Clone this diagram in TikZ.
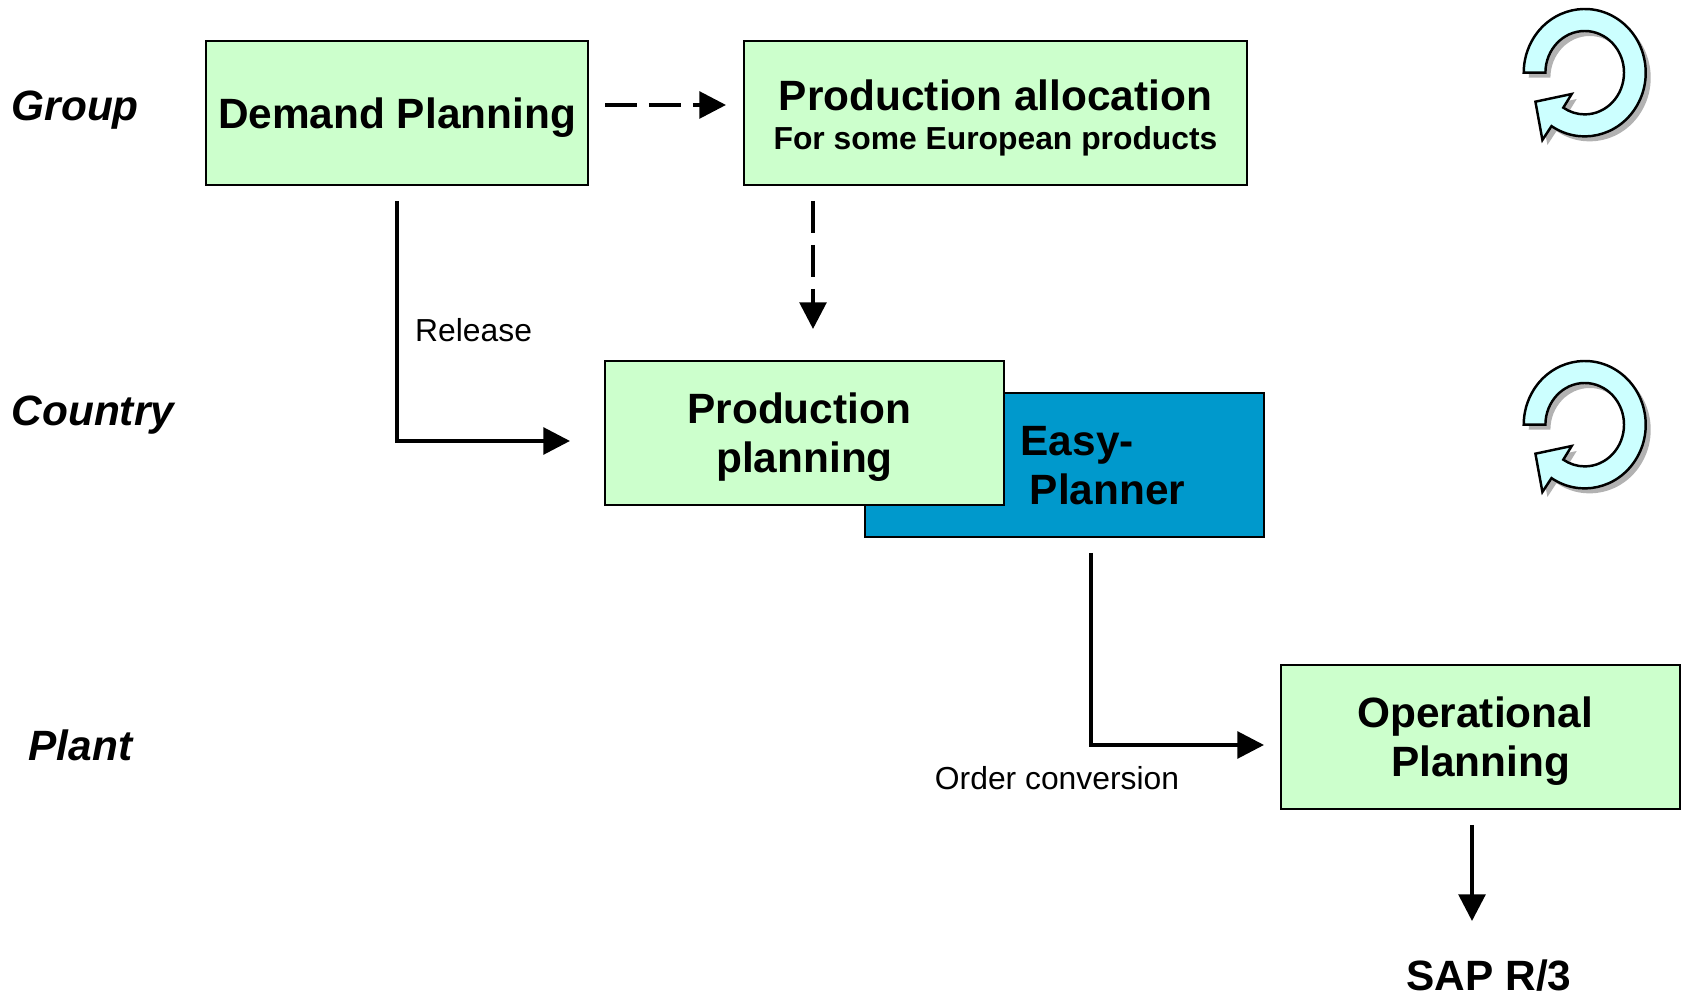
\documentclass[tikz,border=0pt]{standalone}
\usepackage{fontspec}
\setmainfont{Liberation Sans}
\usetikzlibrary{arrows.meta}
\definecolor{boxgreen}{HTML}{CCFFCC}
\definecolor{easyblue}{HTML}{0099CC}
\definecolor{loopcyan}{HTML}{CCFFFF}
\definecolor{loopshadow}{HTML}{B2B2B2}
\newcommand{\bigfont}{\fontsize{12.05}{14}\selectfont\bfseries}
\newcommand{\smallfont}{\fontsize{9.05}{11}\selectfont}
\newcommand{\lift}{\rule{0pt}{11.2pt}}
\tikzset{
  planbox/.style={draw=black,line width=0.65pt,fill=boxgreen,minimum width=3.99cm,minimum height=1.44cm,outer sep=0,inner sep=0,align=center,font=\bigfont},
  level/.style={anchor=base west,inner sep=0,font=\bigfont\itshape},
  small/.style={inner sep=0,font=\smallfont},
  flow/.style={line width=1.1pt,-{Triangle[length=7.6pt,width=7.6pt]}},
  dashflow/.style={flow,dash pattern=on 9.1pt off 3.4pt},
}
\newcommand{\looppath}{(-33.22,-53.42) arc[start angle=-123,end angle=180,x radius=61,y radius=63.7] -- (-39.3,0) arc[start angle=180,end angle=-123,x radius=39.3,y radius=41.7] -- (-13,-21.3) -- (-49.3,-29) -- (-42.3,-67.3) -- cycle}
\newcommand{\looparrow}[2]{
\begin{scope}[shift={(#1,#2)},y=0.01cm]
\fill[loopshadow,shift={(5,-5)}] \looppath;
\draw[line width=0.7pt,fill=loopcyan] \looppath;
\end{scope}
}

\begin{document}
\begin{tikzpicture}[x=0.01cm,y=-0.01cm]
\useasboundingbox (0,0) rectangle (1685,995);

\node[planbox,minimum width=3.82cm] (demand) at (397,113) {\lift Demand Planning};
\node[planbox,minimum width=5.03cm] (alloc) at (995.5,113) {};
\node[planbox,fill=easyblue] (easy) at (1064.5,465) {};
\node[planbox] (prod) at (804.5,433) {\lift Production\hspace*{3pt}\\planning};
\node[planbox] (oper) at (1480.5,737) {\lift Operational\hspace*{3pt}\\Planning};
\node[anchor=west,inner sep=0,align=left,font=\bigfont] (easytext) at (1020,466) {Easy-\\\hspace*{2.6pt}Planner};
\node[inner sep=0,font=\bigfont] (alloctitle) at (995.5,95) {Production allocation};
\node[inner sep=0,font=\smallfont\bfseries] (allocsub) at (995.5,141) {For some European products};

\node[level] (group) at (11,121) {Group};
\node[level] (country) at (11,426) {Country};
\node[level] (plant) at (28,761) {Plant};

\node[small,anchor=west] (release) at (414.5,330) {Release};
\node[small] (order) at (1057,778) {Order conversion};
\node[anchor=base,font=\bigfont,inner sep=0] (sap) at (1489,991) {SAP R/3};

\coordinate (dashstart) at (605,105);
\coordinate (dashend) at (726,105);
\coordinate (dashtop) at (813,201);
\coordinate (dashbot) at (813,329);
\coordinate (relend) at (570,441);
\coordinate (ordertop) at (1091,553);
\coordinate (orderend) at (1264,745);
\coordinate (saptop) at (1472,825);
\coordinate (sapbot) at (1472,921);

\draw[dashflow] (dashstart) -- (dashend);
\draw[dashflow] (dashtop) -- (dashbot);
\draw[flow,shorten <=4.5pt] (demand.south) |- (relend);
\draw[flow] (ordertop) |- (orderend);
\draw[flow] (saptop) -- (sapbot);

\looparrow{1584.7}{72.7}
\looparrow{1584.7}{424.7}

\end{tikzpicture}
\end{document}
